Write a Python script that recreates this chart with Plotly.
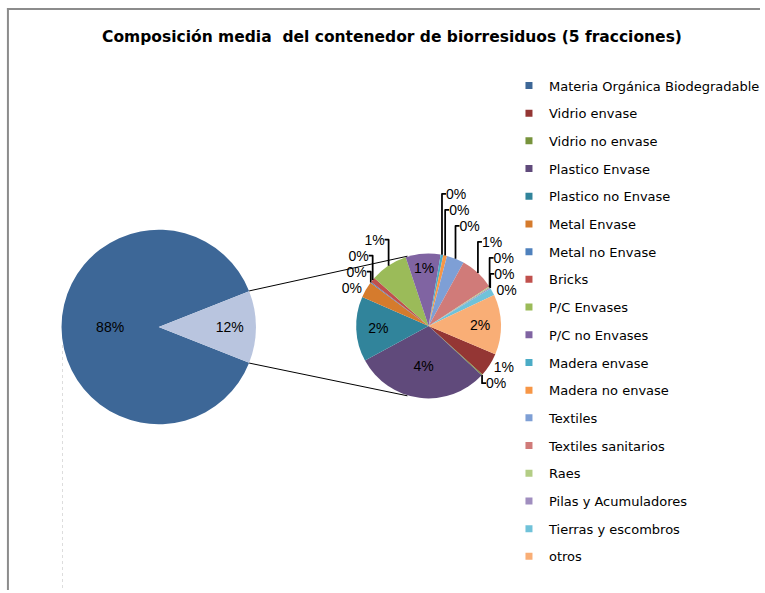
import math
import plotly.graph_objects as go

W, H = 765, 590

TITLE = "Composición media  del contenedor de biorresiduos (5 fracciones)"

# main pie
main_labels = ["Materia Orgánica Biodegradable", "Otros (segundo gráfico)"]
main_values = [88, 12]
main_colors = ["#3D6797", "#B9C5DF"]

# secondary pie (values in % of total)
sec_labels = ["Vidrio envase", "Vidrio no envase", "Plastico Envase", "Plastico no Envase",
              "Metal Envase", "Metal no Envase", "Bricks", "P/C Envases", "P/C no Envases",
              "Madera envase", "Madera no envase", "Textiles", "Textiles sanitarios", "Raes",
              "Pilas y Acumuladores", "Tierras y escombros", "otros"]
sec_values = [0.63, 0.03, 3.6, 1.73, 0.43, 0.03, 0.13, 1.0, 0.93,
              0.07, 0.1, 0.47, 0.93, 0.03, 0.03, 0.2, 1.6]
sec_colors = ["#943634", "#77933C", "#604A7B", "#31849B", "#D57B2D", "#4F81BD", "#C0504D",
              "#9BBB59", "#8064A2", "#4BACC6", "#F79646", "#7E9FD5", "#D07B79", "#B3CD85",
              "#A08EBF", "#70C2D9", "#F9AE76"]

legend_labels = [main_labels[0]] + sec_labels
legend_colors = [main_colors[0]] + sec_colors


def px(x):
    return x / W


def py(y):
    return 1 - y / H


# geometry (pixels)
MC, MR = (160, 327), 98
SC, SR = (432, 326), 73

main_rot = 90 + main_values[1] * 3.6 / 2
sec_rot = 113

fig = go.Figure()

fig.add_trace(go.Pie(
    labels=main_labels, values=main_values, sort=False, direction="clockwise",
    rotation=main_rot, marker=dict(colors=main_colors, line=dict(width=0)),
    texttemplate="%{value:.0f}%", textposition="inside", insidetextorientation="horizontal",
    textfont=dict(family="Liberation Sans", size=14, color="#000000"),
    domain=dict(x=[px(MC[0] - MR), px(MC[0] + MR)], y=[py(MC[1] + MR), py(MC[1] - MR)]),
    showlegend=False, hoverinfo="label+value",
))

inside_idx = {2, 3, 8, 16}
sec_pos = ["inside" if i in inside_idx else "outside" for i in range(len(sec_values))]

fig.add_trace(go.Pie(
    labels=sec_labels, values=sec_values, sort=False, direction="clockwise",
    rotation=sec_rot, marker=dict(colors=sec_colors, line=dict(width=0)),
    texttemplate="%{value:.0f}%", textposition=sec_pos, insidetextorientation="horizontal",
    textfont=dict(family="Liberation Sans", size=14, color="#000000"),
    domain=dict(x=[px(SC[0] - SR), px(SC[0] + SR)], y=[py(SC[1] + SR), py(SC[1] - SR)]),
    showlegend=False, hoverinfo="label+value",
))

# legend entries
for lab, col in zip(legend_labels, legend_colors):
    fig.add_trace(go.Scatter(
        x=[None], y=[None], mode="markers", name=lab, legendgroup=lab,
        marker=dict(symbol="square", size=7, color=col), hoverinfo="skip",
    ))

# connector lines from the 12% slice to the secondary pie
a1 = math.radians(main_rot + main_values[0] * 3.6)
a2 = math.radians(main_rot + 360)
p1 = (MC[0] + MR * math.sin(a1), MC[1] - MR * math.cos(a1))
p2 = (MC[0] + MR * math.sin(a2), MC[1] - MR * math.cos(a2))
b1 = math.radians(343)
b2 = math.radians(197)
q1 = (SC[0] + SR * math.sin(b1), SC[1] - SR * math.cos(b1))
q2 = (SC[0] + SR * math.sin(b2), SC[1] - SR * math.cos(b2))

border = dict(color="#8C8C8C", width=2)
shapes = [
    dict(type="line", xref="paper", yref="paper", x0=px(p1[0]), y0=py(p1[1]),
         x1=px(q1[0]), y1=py(q1[1]), line=dict(color="#000000", width=1)),
    dict(type="line", xref="paper", yref="paper", x0=px(p2[0]), y0=py(p2[1]),
         x1=px(q2[0]), y1=py(q2[1]), line=dict(color="#000000", width=1)),
    # chart border (top and left edges visible)
    dict(type="line", xref="paper", yref="paper", x0=px(7), y0=py(9), x1=px(766), y1=py(9),
         line=border, layer="below"),
    dict(type="line", xref="paper", yref="paper", x0=px(8), y0=py(8), x1=px(8), y1=py(594),
         line=border, layer="below"),
    # faint dotted artifact
    dict(type="line", xref="paper", yref="paper", x0=px(63), y0=py(345), x1=px(63), y1=py(593),
         line=dict(color="#DDDDDD", width=1, dash="dot"), layer="below"),
]

fig.update_layout(
    width=W, height=H,
    margin=dict(l=0, r=0, t=0, b=0),
    paper_bgcolor="white", plot_bgcolor="white",
    title=dict(text="<b>" + TITLE + "</b>", x=px(392), xanchor="center", y=py(37), yanchor="middle",
               font=dict(family="DejaVu Sans", size=15.5, color="#000000")),
    xaxis=dict(visible=False, domain=[0, 0.05]), yaxis=dict(visible=False, domain=[0, 0.05]),
    legend=dict(x=px(513), y=py(70.5), xanchor="left", yanchor="top",
                font=dict(family="DejaVu Sans", size=13, color="#000000"),
                tracegroupgap=7.8, bgcolor="rgba(0,0,0,0)", borderwidth=0,
                traceorder="grouped"),
    shapes=shapes,
    showlegend=True,
)

fig.write_html("out.html", config={"displayModeBar": False},
               post_script=("document.documentElement.style.overflow='hidden';"
                            "document.body.style.margin='0px';"
                            "document.body.style.overflow='hidden';"))
